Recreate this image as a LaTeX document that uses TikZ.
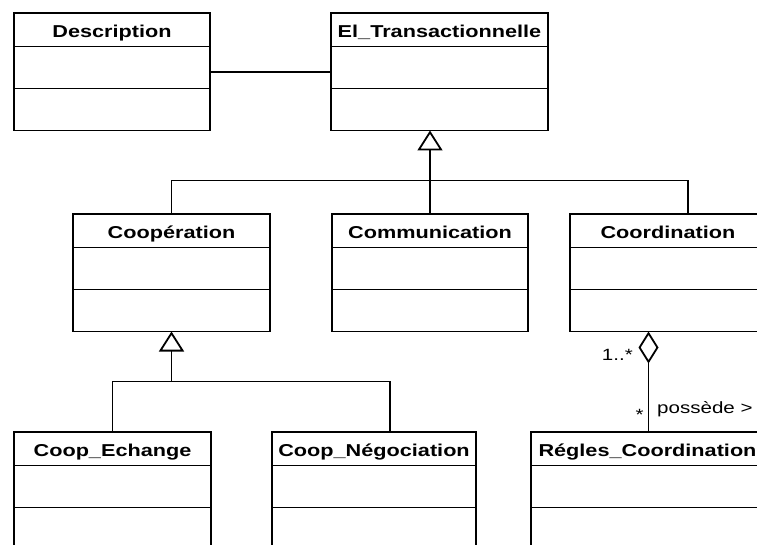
\documentclass[tikz,border=0pt]{standalone}
\usepackage{fontspec}
\setmainfont[FakeStretch=1.26]{Liberation Sans}
\usetikzlibrary{arrows.meta,calc}
\tikzset{
  classbox/.style={draw, line width=1.9pt, minimum height=117.5pt, inner sep=0pt, outer sep=0pt, anchor=north},
  classtitle/.style={font=\fontsize{17.2}{20}\selectfont\bfseries, inner sep=0pt, anchor=base},
  classline/.style={line width=1.7pt},
  conn/.style={line width=1.8pt},
  inherit/.style={conn, -{Triangle[open, length=20pt, width=25pt]}},
  aggreg/.style={conn, {Diamond[open, length=32pt, width=20pt]}-},
  rolelabel/.style={font=\fontsize{16.3}{19}\selectfont, inner sep=0pt}
}
\newcommand{\umlclass}[5]{%
  \node[classbox, minimum width=#4pt] (#1) at (#2,#3) {};
  \node[classtitle] (#1-title) at ([yshift=-24.5pt]#1.north) {#5};
  \draw[classline] ([yshift=-33.5pt]#1.north west) -- ([yshift=-33.5pt]#1.north east);
  \draw[classline] ([yshift=-75.5pt]#1.north west) -- ([yshift=-75.5pt]#1.north east);
}
\begin{document}
\begin{tikzpicture}[x=1pt, y=-1pt]
\clip (0,0) rectangle (757,545);
\useasboundingbox (0,0) rectangle (757,545);
\fill[white] (0,0) rectangle (757,545);

\umlclass{desc}{112}{13}{196}{Description}
\umlclass{el}{439.5}{13}{217}{El\_Transactionnelle}
\umlclass{coop}{171.5}{214}{197}{Coopération}
\umlclass{comm}{430}{214}{196}{Communication}
\umlclass{coord}{668}{214}{196}{Coordination}
\umlclass{echange}{112.5}{432}{197}{Coop\_Echange}
\umlclass{nego}{374}{432}{204}{Coop\_Négociation}
\umlclass{regles}{647.5}{432}{233}{Régles\_Coordination}

% association
\draw[conn] (desc.east) -- (el.west);

% generalization 1
\coordinate (genbar) at (430,180.5);
\draw[inherit] (comm.north) -- (comm.north |- el.south);
\draw[conn] (coop.north) |- (genbar) -| ([xshift=20pt]coord.north);

% generalization 2
\coordinate (genbar2) at (171.5,381.5);
\draw[inherit] (genbar2) -- (coop.south);
\draw[conn] (echange.north) |- (genbar2) -| ([xshift=16pt]nego.north);

% aggregation
\coordinate (agg) at ([xshift=-19.5pt]coord.south);
\draw[aggreg] (agg) -- (agg |- regles.north);
\node[rolelabel, anchor=base east] (mult1) at (633,360) {1..*};
\node[rolelabel, anchor=base] (mult2) at (639.5,420) {*};
\node[rolelabel, anchor=base west] (assoc) at (657,413) {possède >};
\end{tikzpicture}
\end{document}
